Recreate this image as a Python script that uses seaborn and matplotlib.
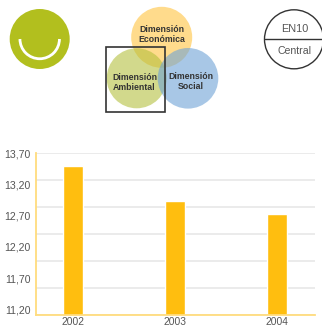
import numpy as np
import pandas as pd
import seaborn as sns
import matplotlib.pyplot as plt
from matplotlib.patches import Circle, Arc, Rectangle

years = ["2002", "2003", "2004"]
values = [13.52, 12.95, 12.74]
tick_values = [11.2, 11.7, 12.2, 12.7, 13.2, 13.7]
tick_labels = ["11,20", "11,70", "12,20", "12,70", "13,20", "13,70"]

W, H = 322, 326
sns.set_theme(style="white")
plt.rcParams['font.family'] = ['Liberation Sans', 'DejaVu Sans']

fig = plt.figure(figsize=(W / 100, H / 100), dpi=100, facecolor="white")

# header icons, in pixel coords
top = fig.add_axes([0, 0, 1, 1])
top.set_xlim(0, W)
top.set_ylim(H, 0)
top.axis("off")

top.add_patch(Circle((39.7, 39), 30, fc="#B2BF1E", ec="none"))
top.add_patch(Arc((39.7, 39), 39.5, 39.5, theta1=0, theta2=180, color="white", lw=2))

top.add_patch(Circle((161.7, 37.3), 30.5, fc="#FFBE2E", ec="none", alpha=0.55))
top.add_patch(Circle((136.7, 78.3), 30, fc="#B2BF3A", ec="none", alpha=0.58))
top.add_patch(Circle((188, 78.3), 30.3, fc="#6FA3D6", ec="none", alpha=0.6))
top.add_patch(Rectangle((106, 47.3), 59.3, 64.7, fc="none", ec="#333333", lw=1.2))

bold = dict(ha="center", va="center", fontsize=6.3, fontweight="bold", color="#333333", linespacing=1.05)
top.text(161.7, 34.5, "Dimensión\nEconómica", **bold)
top.text(134.5, 82.5, "Dimensión\nAmbiental", **bold)
top.text(190.5, 81.5, "Dimensión\nSocial", **bold)

top.add_patch(Circle((294, 39.3), 29.5, fc="none", ec="#333333", lw=1.0))
top.plot([265, 322], [39.3, 39.3], color="#333333", lw=1.0)
top.text(294.3, 29, "EN10", ha="center", va="center", fontsize=7.8, color="#555555")
top.text(294.3, 50.5, "Central", ha="center", va="center", fontsize=7.6, color="#555555")

# bar chart
ax_left, ax_right, ax_top, ax_bottom = 36, 315, 153.3, 314.7
ax = fig.add_axes([ax_left / W, 1 - ax_bottom / H, (ax_right - ax_left) / W, (ax_bottom - ax_top) / H])
ax.patch.set_alpha(0)

df = pd.DataFrame({"year": years, "value": values})
sns.barplot(data=df, x="year", y="value", color="#FFBE0F", saturation=1, width=0.196, ax=ax, zorder=3)

ax.set_xlim(-0.363, 2.373)
ylo, yhi = 11.126, 13.723
ax.set_ylim(ylo, yhi)
ax.set_xlabel("")
ax.set_ylabel("")

ax.set_yticks(tick_values)
ax.set_yticklabels(tick_labels, va="center")
ax.set_yticks(np.linspace(ylo, yhi, 7), minor=True)
ax.grid(which="minor", axis="y", color="#E6E6E6", lw=1.1, zorder=0)
for gl in ax.yaxis.get_minorticklines():
    gl.set_visible(False)
ax.tick_params(axis="y", which="major", length=0, pad=4, labelsize=7.6, labelcolor="#555555")
ax.tick_params(axis="x", length=0, pad=2, labelsize=7.4, labelcolor="#555555")

for side in ["top", "right"]:
    ax.spines[side].set_visible(False)
for side in ["left", "bottom"]:
    ax.spines[side].set_color("#FFDC7E")
    ax.spines[side].set_linewidth(1.3)
    ax.spines[side].set_zorder(4)

fig.savefig("out.png", dpi=100)
